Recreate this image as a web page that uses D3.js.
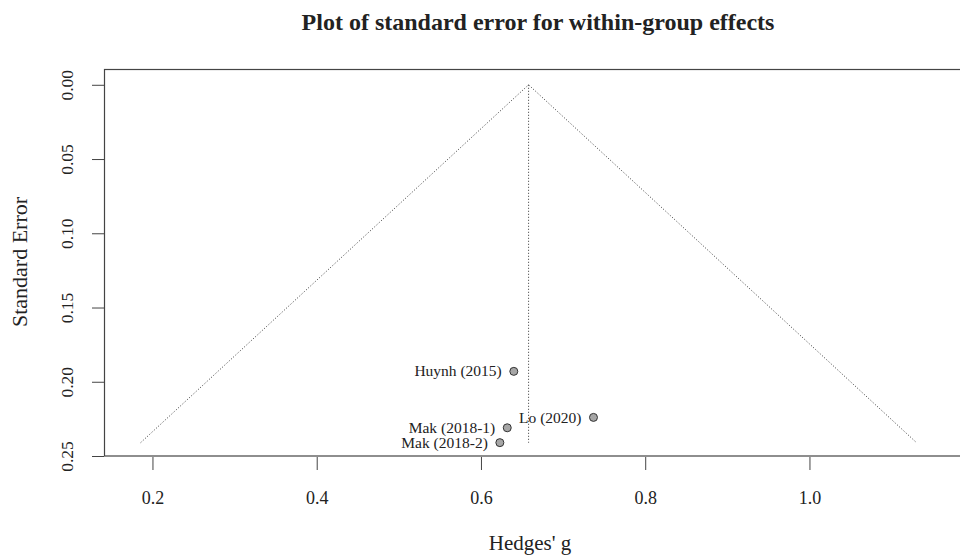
<!DOCTYPE html>
<html>
<head>
<meta charset="utf-8">
<style>
  body { margin: 0; background: #fff; }
  svg text { font-family: "Liberation Serif", "Times New Roman", serif; fill: #222; }
</style>
</head>
<body>
<svg id="funnel" width="960" height="555"></svg>
<script src="https://d3js.org/d3.v7.min.js"></script>
<script>

// study estimates
var studies = ["Huynh (2015)", "Lo (2020)", "Mak (2018-1)", "Mak (2018-2)"];
var hedgesG = [0.640, 0.737, 0.632, 0.623];
var stdErr = [0.193, 0.224, 0.231, 0.241];
var pooled = 0.658;
var xTicks = [0.2, 0.4, 0.6, 0.8, 1.0];
var yTicks = [0.00, 0.05, 0.10, 0.15, 0.20, 0.25];

var svg = d3.select("svg#funnel");

var x = d3.scaleLinear()
    .domain([0.141, 1.19])
    .range([104, 965.5]);

var y = d3.scaleLinear()
    .domain([-0.0103, 0.25])
    .range([69.5, 456]);

var seMax = d3.max(stdErr);

// plot box
svg.append("rect")
    .attr("x", x.range()[0] + 0.5)
    .attr("y", y.range()[0])
    .attr("width", x.range()[1] - x.range()[0])
    .attr("height", y.range()[1] - y.range()[0])
    .attr("fill", "none")
    .attr("stroke", "#444")
    .attr("stroke-width", 1.2);

// funnel triangle + centre line
var funnel = [
  [pooled - 1.96 * seMax, seMax],
  [pooled, 0],
  [pooled + 1.96 * seMax, seMax]
];
var line = d3.line()
    .x(function(d) { return x(d[0]); })
    .y(function(d) { return y(d[1]); });

svg.append("path")
    .datum(funnel)
    .attr("d", line)
    .attr("fill", "none")
    .attr("stroke", "#333")
    .attr("stroke-width", 1)
    .attr("stroke-dasharray", "1,2");

svg.append("path")
    .datum([[pooled, 0], [pooled, seMax]])
    .attr("d", line)
    .attr("fill", "none")
    .attr("stroke", "#333")
    .attr("stroke-width", 1)
    .attr("stroke-dasharray", "1,2");

// x axis
var xAxis = svg.append("g")
    .attr("transform", "translate(0," + (y.range()[1] + 1) + ")")
    .call(d3.axisBottom(x).tickValues(xTicks).tickSize(13).tickFormat(d3.format(".1f")));
xAxis.select(".domain").remove();
xAxis.selectAll("line").attr("stroke", "#444");
xAxis.selectAll("text")
    .attr("font-size", 18)
    .attr("dy", 0)
    .attr("y", 47)
    .attr("fill", "#222");

// y axis
var yAxis = svg.append("g")
    .attr("transform", "translate(" + x.range()[0] + ",0)")
    .call(d3.axisLeft(y).tickValues(yTicks).tickSize(12).tickFormat(d3.format(".2f")));
yAxis.select(".domain").remove();
yAxis.selectAll("line").attr("stroke", "#444");
yAxis.selectAll("text")
    .attr("font-size", 17.5)
    .attr("x", 0)
    .attr("dy", 0)
    .attr("text-anchor", "middle")
    .attr("transform", "translate(-31,0) rotate(-90)")
    .attr("fill", "#222");

// points
svg.selectAll("circle.study")
    .data(studies)
    .enter().append("circle")
    .attr("class", "study")
    .attr("cx", function(d, i) { return x(hedgesG[i]); })
    .attr("cy", function(d, i) { return y(stdErr[i]); })
    .attr("r", 4)
    .attr("fill", "#a6a6a6")
    .attr("stroke", "#333")
    .attr("stroke-width", 1);

svg.selectAll("text.study")
    .data(studies)
    .enter().append("text")
    .attr("class", "study")
    .attr("x", function(d, i) { return x(hedgesG[i]) - 12; })
    .attr("y", function(d, i) { return y(stdErr[i]); })
    .attr("dy", "0.33em")
    .attr("text-anchor", "end")
    .attr("font-size", 15.5)
    .text(function(d) { return d; });

// titles
svg.append("text")
    .attr("x", 538)
    .attr("y", 30)
    .attr("text-anchor", "middle")
    .attr("font-size", 24)
    .attr("font-weight", "bold")
    .text("Plot of standard error for within-group effects");

svg.append("text")
    .attr("x", 530)
    .attr("y", 550)
    .attr("text-anchor", "middle")
    .attr("font-size", 21)
    .text("Hedges' g");

svg.append("text")
    .attr("transform", "translate(27," + 262 + ") rotate(-90)")
    .attr("text-anchor", "middle")
    .attr("font-size", 22)
    .text("Standard Error");

</script>
</body>
</html>
